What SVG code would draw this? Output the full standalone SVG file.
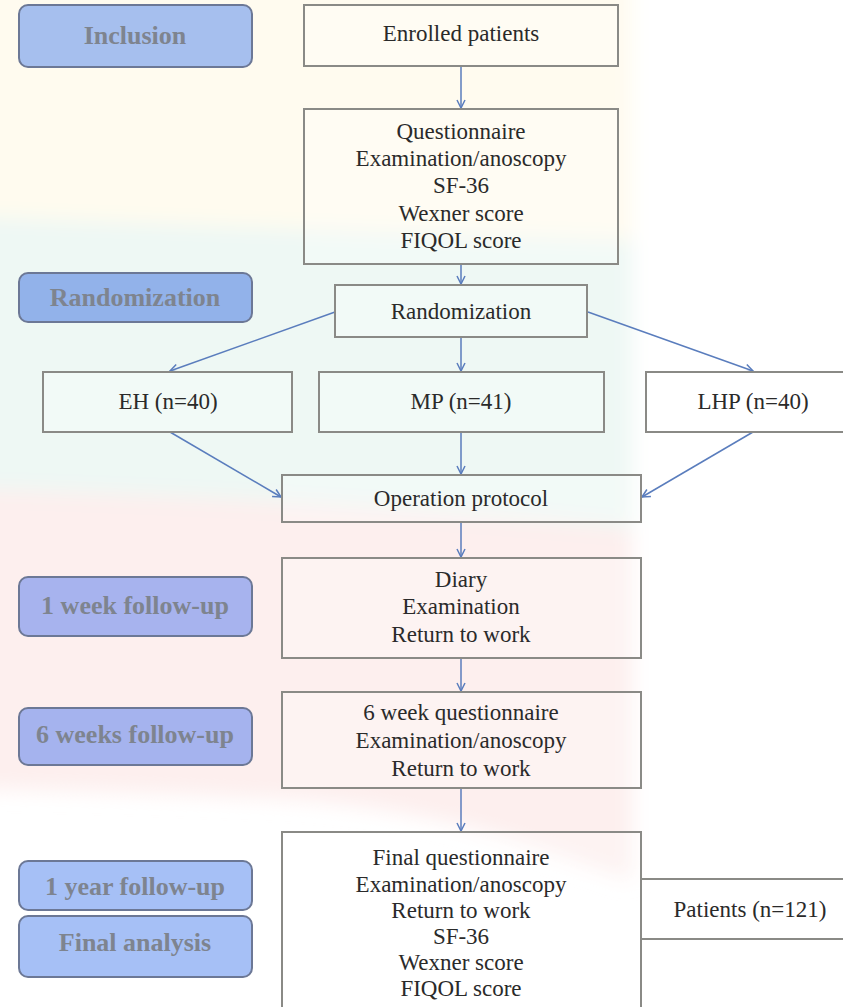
<svg xmlns="http://www.w3.org/2000/svg" width="843" height="1007" viewBox="0 0 843 1007">
<defs>
<style>
.box{fill:#ffffff;fill-opacity:0.25;stroke:#8a8a86;stroke-width:2}
.lab{stroke:#6c7896;stroke-width:2}
.t{font-family:"Liberation Serif","Times New Roman",serif;font-size:23px;fill:#2a2a2a;text-anchor:middle}
.lt{font-family:"Liberation Serif","Times New Roman",serif;font-size:26px;font-weight:bold;fill:#7e848f;text-anchor:middle}
.arr{stroke:#5a7dbd;stroke-width:1.5;fill:none;marker-end:url(#ah)}
</style>
<marker id="ah" viewBox="0 0 10 10" refX="9" refY="5" markerWidth="10" markerHeight="10" markerUnits="userSpaceOnUse" orient="auto">
<path d="M1,1 L9,5 L1,9" fill="none" stroke="#5a7dbd" stroke-width="1.5"/>
</marker>
<filter id="soft" x="-20%" y="-20%" width="140%" height="140%"><feGaussianBlur stdDeviation="10"/></filter>
</defs>
<rect x="0" y="0" width="843" height="1007" fill="#ffffff"/>
<g id="background" filter="url(#soft)">
<rect x="-60" y="-60" width="692" height="340" fill="#fffbef"/>
<path d="M-60,215 C200,225 450,235 632,240 V545 H-60 Z" fill="#eef8f4"/>
<path d="M-60,488 C200,495 450,510 632,528 V880 C560,860 480,815 300,800 C200,795 100,790 -60,788 Z" fill="#fdefee"/>
</g>
<g id="connectors">
<line class="arr" x1="461" y1="66" x2="461" y2="108"/>
<line class="arr" x1="461" y1="264" x2="461" y2="284"/>
<line class="arr" x1="335" y1="312" x2="170" y2="371"/>
<line class="arr" x1="461" y1="337" x2="461" y2="371"/>
<line class="arr" x1="588" y1="312" x2="753" y2="371"/>
<line class="arr" x1="170" y1="432" x2="281" y2="497"/>
<line class="arr" x1="461" y1="432" x2="461" y2="474"/>
<line class="arr" x1="753" y1="432" x2="642" y2="497"/>
<line class="arr" x1="461" y1="522" x2="461" y2="557"/>
<line class="arr" x1="461" y1="658" x2="461" y2="691"/>
<line class="arr" x1="461" y1="788" x2="461" y2="831"/>
</g>
<g id="label-inclusion">
<rect class="lab" x="19" y="5" width="233" height="62" rx="9" fill="#a6bfee"/>
<text class="lt" x="135" y="44">Inclusion</text>
</g>
<g id="label-randomization">
<rect class="lab" x="19" y="273" width="233" height="49" rx="9" fill="#92b2ea"/>
<text class="lt" x="135" y="306">Randomization</text>
</g>
<g id="label-1week">
<rect class="lab" x="19" y="577" width="233" height="59" rx="9" fill="#a7b3ee"/>
<text class="lt" x="135" y="614">1 week follow-up</text>
</g>
<g id="label-6weeks">
<rect class="lab" x="19" y="708" width="233" height="57" rx="9" fill="#a5b3ee"/>
<text class="lt" x="135" y="743">6 weeks follow-up</text>
</g>
<g id="label-1year">
<rect class="lab" x="19" y="861" width="233" height="49" rx="9" fill="#a6c0f6"/>
<text class="lt" x="135" y="895">1 year follow-up</text>
</g>
<g id="label-final">
<rect class="lab" x="19" y="916" width="233" height="61" rx="9" fill="#a6c0f6"/>
<text class="lt" x="135" y="951">Final analysis</text>
</g>
<g id="enrolled">
<rect class="box" x="304" y="5" width="314" height="61"/>
<text class="t" x="461" y="41">Enrolled patients</text>
</g>
<g id="baseline">
<rect class="box" x="304" y="109" width="314" height="155"/>
<text class="t" x="461" y="139">Questionnaire</text>
<text class="t" x="461" y="166">Examination/anoscopy</text>
<text class="t" x="461" y="193">SF-36</text>
<text class="t" x="461" y="221">Wexner score</text>
<text class="t" x="461" y="248">FIQOL score</text>
</g>
<g id="randomization">
<rect class="box" x="335" y="285" width="252" height="52"/>
<text class="t" x="461" y="319">Randomization</text>
</g>
<g id="eh">
<rect class="box" x="43" y="372" width="249" height="60"/>
<text class="t" x="168" y="409">EH (n=40)</text>
</g>
<g id="mp">
<rect class="box" x="319" y="372" width="285" height="60"/>
<text class="t" x="461" y="409">MP (n=41)</text>
</g>
<g id="lhp">
<rect class="box" x="646" y="372" width="210" height="60"/>
<text class="t" x="753" y="409">LHP (n=40)</text>
</g>
<g id="operation">
<rect class="box" x="282" y="475" width="359" height="47"/>
<text class="t" x="461" y="506">Operation protocol</text>
</g>
<g id="week1">
<rect class="box" x="282" y="558" width="359" height="100"/>
<text class="t" x="461" y="587">Diary</text>
<text class="t" x="461" y="614">Examination</text>
<text class="t" x="461" y="642">Return to work</text>
</g>
<g id="week6">
<rect class="box" x="282" y="692" width="359" height="96"/>
<text class="t" x="461" y="720">6 week questionnaire</text>
<text class="t" x="461" y="748">Examination/anoscopy</text>
<text class="t" x="461" y="776">Return to work</text>
</g>
<g id="year1">
<rect class="box" x="282" y="832" width="359" height="190"/>
<text class="t" x="461" y="865">Final questionnaire</text>
<text class="t" x="461" y="892">Examination/anoscopy</text>
<text class="t" x="461" y="918">Return to work</text>
<text class="t" x="461" y="944">SF-36</text>
<text class="t" x="461" y="970">Wexner score</text>
<text class="t" x="461" y="996">FIQOL score</text>
</g>
<g id="patients">
<rect class="box" x="641" y="879" width="215" height="60"/>
<text class="t" x="750" y="917">Patients (n=121)</text>
</g>
</svg>
